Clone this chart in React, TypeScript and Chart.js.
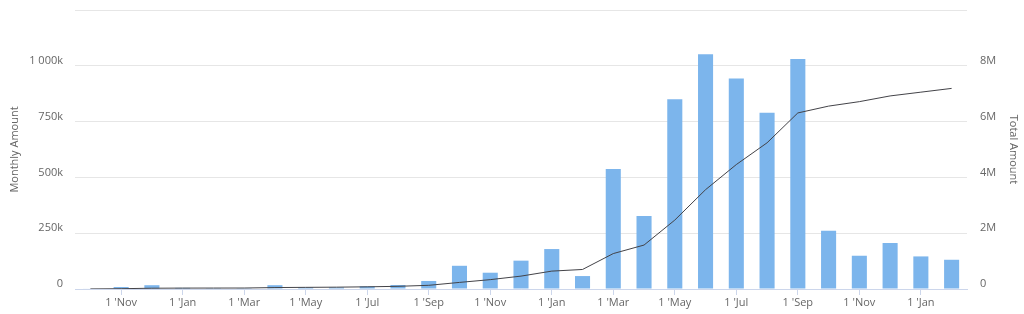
import React, { useEffect, useRef } from "react";
import { Chart, registerables } from "chart.js";

Chart.register(...registerables);

const months: string[] = [
  "Oct", "Nov", "Dec", "Jan", "Feb", "Mar", "Apr", "May", "Jun", "Jul", "Aug", "Sep",
  "Oct", "Nov", "Dec", "Jan", "Feb", "Mar", "Apr", "May", "Jun", "Jul", "Aug", "Sep",
  "Oct", "Nov", "Dec", "Jan", "Feb",
];

const monthlyAmount: number[] = [
  2000, 9000, 17000, 5000, 1000, 1000, 17000, 7000, 7000, 12000, 18000, 36000,
  104000, 73000, 127000, 179000, 58000, 538000, 327000, 850000, 1052000, 943000, 790000, 1030000,
  261000, 149000, 206000, 146000, 131000,
];

const totalAmount: number[] = [
  2000, 11000, 28000, 33000, 34000, 35000, 52000, 59000, 66000, 78000, 96000, 132000,
  236000, 335000, 462000, 641000, 700000, 1270000, 1575000, 2470000, 3560000, 4460000, 5240000, 6310000,
  6555000, 6715000, 6920000, 7055000, 7190000,
];

const leftTicks: number[] = [0, 250000, 500000, 750000, 1000000, 1250000];
const rightTicks: number[] = [0, 2000000, 4000000, 6000000, 8000000, 10000000];

const FONT = "'Open Sans', sans-serif";
const LABEL_COLOR = "#666666";

export default function App() {
  const ref = useRef<HTMLCanvasElement | null>(null);

  useEffect(() => {
    if (!ref.current) return;
    const chart = new Chart(ref.current, {
      type: "bar",
      data: {
        labels: months,
        datasets: [
          {
            type: "line",
            label: "Total Amount",
            data: totalAmount,
            yAxisID: "y1",
            borderColor: "#434348",
            borderWidth: 1,
            pointRadius: 0,
            tension: 0,
            fill: false,
            order: 0,
          },
          {
            type: "bar",
            label: "Monthly Amount",
            data: monthlyAmount,
            yAxisID: "y",
            backgroundColor: "#7cb5ec",
            borderWidth: 0,
            categoryPercentage: 1,
            barPercentage: 0.49,
            order: 1,
          },
        ],
      },
      options: {
        animation: false,
        responsive: false,
        maintainAspectRatio: false,
        layout: { padding: { top: 10, left: 0, right: 0, bottom: 0 } },
        plugins: {
          legend: { display: false },
          tooltip: { enabled: false },
        },
        scales: {
          x: {
            type: "category",
            offset: true,
            grid: {
              offset: false,
              drawOnChartArea: false,
              drawTicks: true,
              tickLength: 6,
              tickColor: (ctx: any) => (ctx.index % 2 === 1 ? "#ccd6eb" : "rgba(0,0,0,0)"),
            },
            border: { display: true, color: "#ccd6eb", width: 1 },
            ticks: {
              autoSkip: false,
              maxRotation: 0,
              padding: 1,
              color: LABEL_COLOR,
              font: { family: FONT, size: 11 },
              callback: (_v: any, i: number) => (i % 2 === 1 ? "1 '" + months[i] : ""),
            },
            afterFit: (s: any) => {
              s.height = 25;
              s.paddingLeft = 0;
              s.paddingRight = 0;
            },
          },
          y: {
            type: "linear",
            position: "left",
            min: 0,
            max: 1250000,
            afterBuildTicks: (s: any) => {
              s.ticks = leftTicks.map((v) => ({ value: v }));
            },
            grid: { color: "#e6e6e6", drawTicks: false, lineWidth: 1 },
            border: { display: false },
            ticks: {
              padding: 12,
              labelOffset: -5,
              color: LABEL_COLOR,
              font: { family: FONT, size: 11 },
              callback: (v: any) => {
                const n = Number(v);
                if (n === 1250000) return "";
                if (n === 0) return "0";
                if (n === 1000000) return "1 000k";
                return n / 1000 + "k";
              },
            },
            title: {
              display: true,
              text: "Monthly Amount",
              color: LABEL_COLOR,
              font: { family: FONT, size: 11 },
              padding: { top: 8, bottom: 0 },
            },
            afterFit: (s: any) => {
              s.width = 75;
              s.paddingTop = 0;
              s.paddingBottom = 0;
            },
          },
          y1: {
            type: "linear",
            position: "right",
            min: 0,
            max: 10000000,
            afterBuildTicks: (s: any) => {
              s.ticks = rightTicks.map((v) => ({ value: v }));
            },
            grid: { display: false, drawOnChartArea: false, drawTicks: false },
            border: { display: false },
            ticks: {
              padding: 13,
              labelOffset: -5,
              color: LABEL_COLOR,
              font: { family: FONT, size: 11 },
              callback: (v: any) => {
                const n = Number(v);
                if (n === 10000000) return "";
                if (n === 0) return "0";
                return n / 1000000 + "M";
              },
            },
            title: {
              display: true,
              text: "Total Amount",
              color: LABEL_COLOR,
              font: { family: FONT, size: 11 },
              padding: { top: 4, bottom: 0 },
            },
            afterFit: (s: any) => {
              s.width = 57;
              s.paddingTop = 0;
              s.paddingBottom = 0;
            },
          },
        },
      },
    });
    return () => chart.destroy();
  }, []);

  return (
    <div style={{ position: "fixed", left: 0, top: 0, width: 1024, height: 314, background: "#fff" }}>
      <canvas ref={ref} width={1024} height={314} style={{ width: 1024, height: 314, display: "block" }} />
    </div>
  );
}
